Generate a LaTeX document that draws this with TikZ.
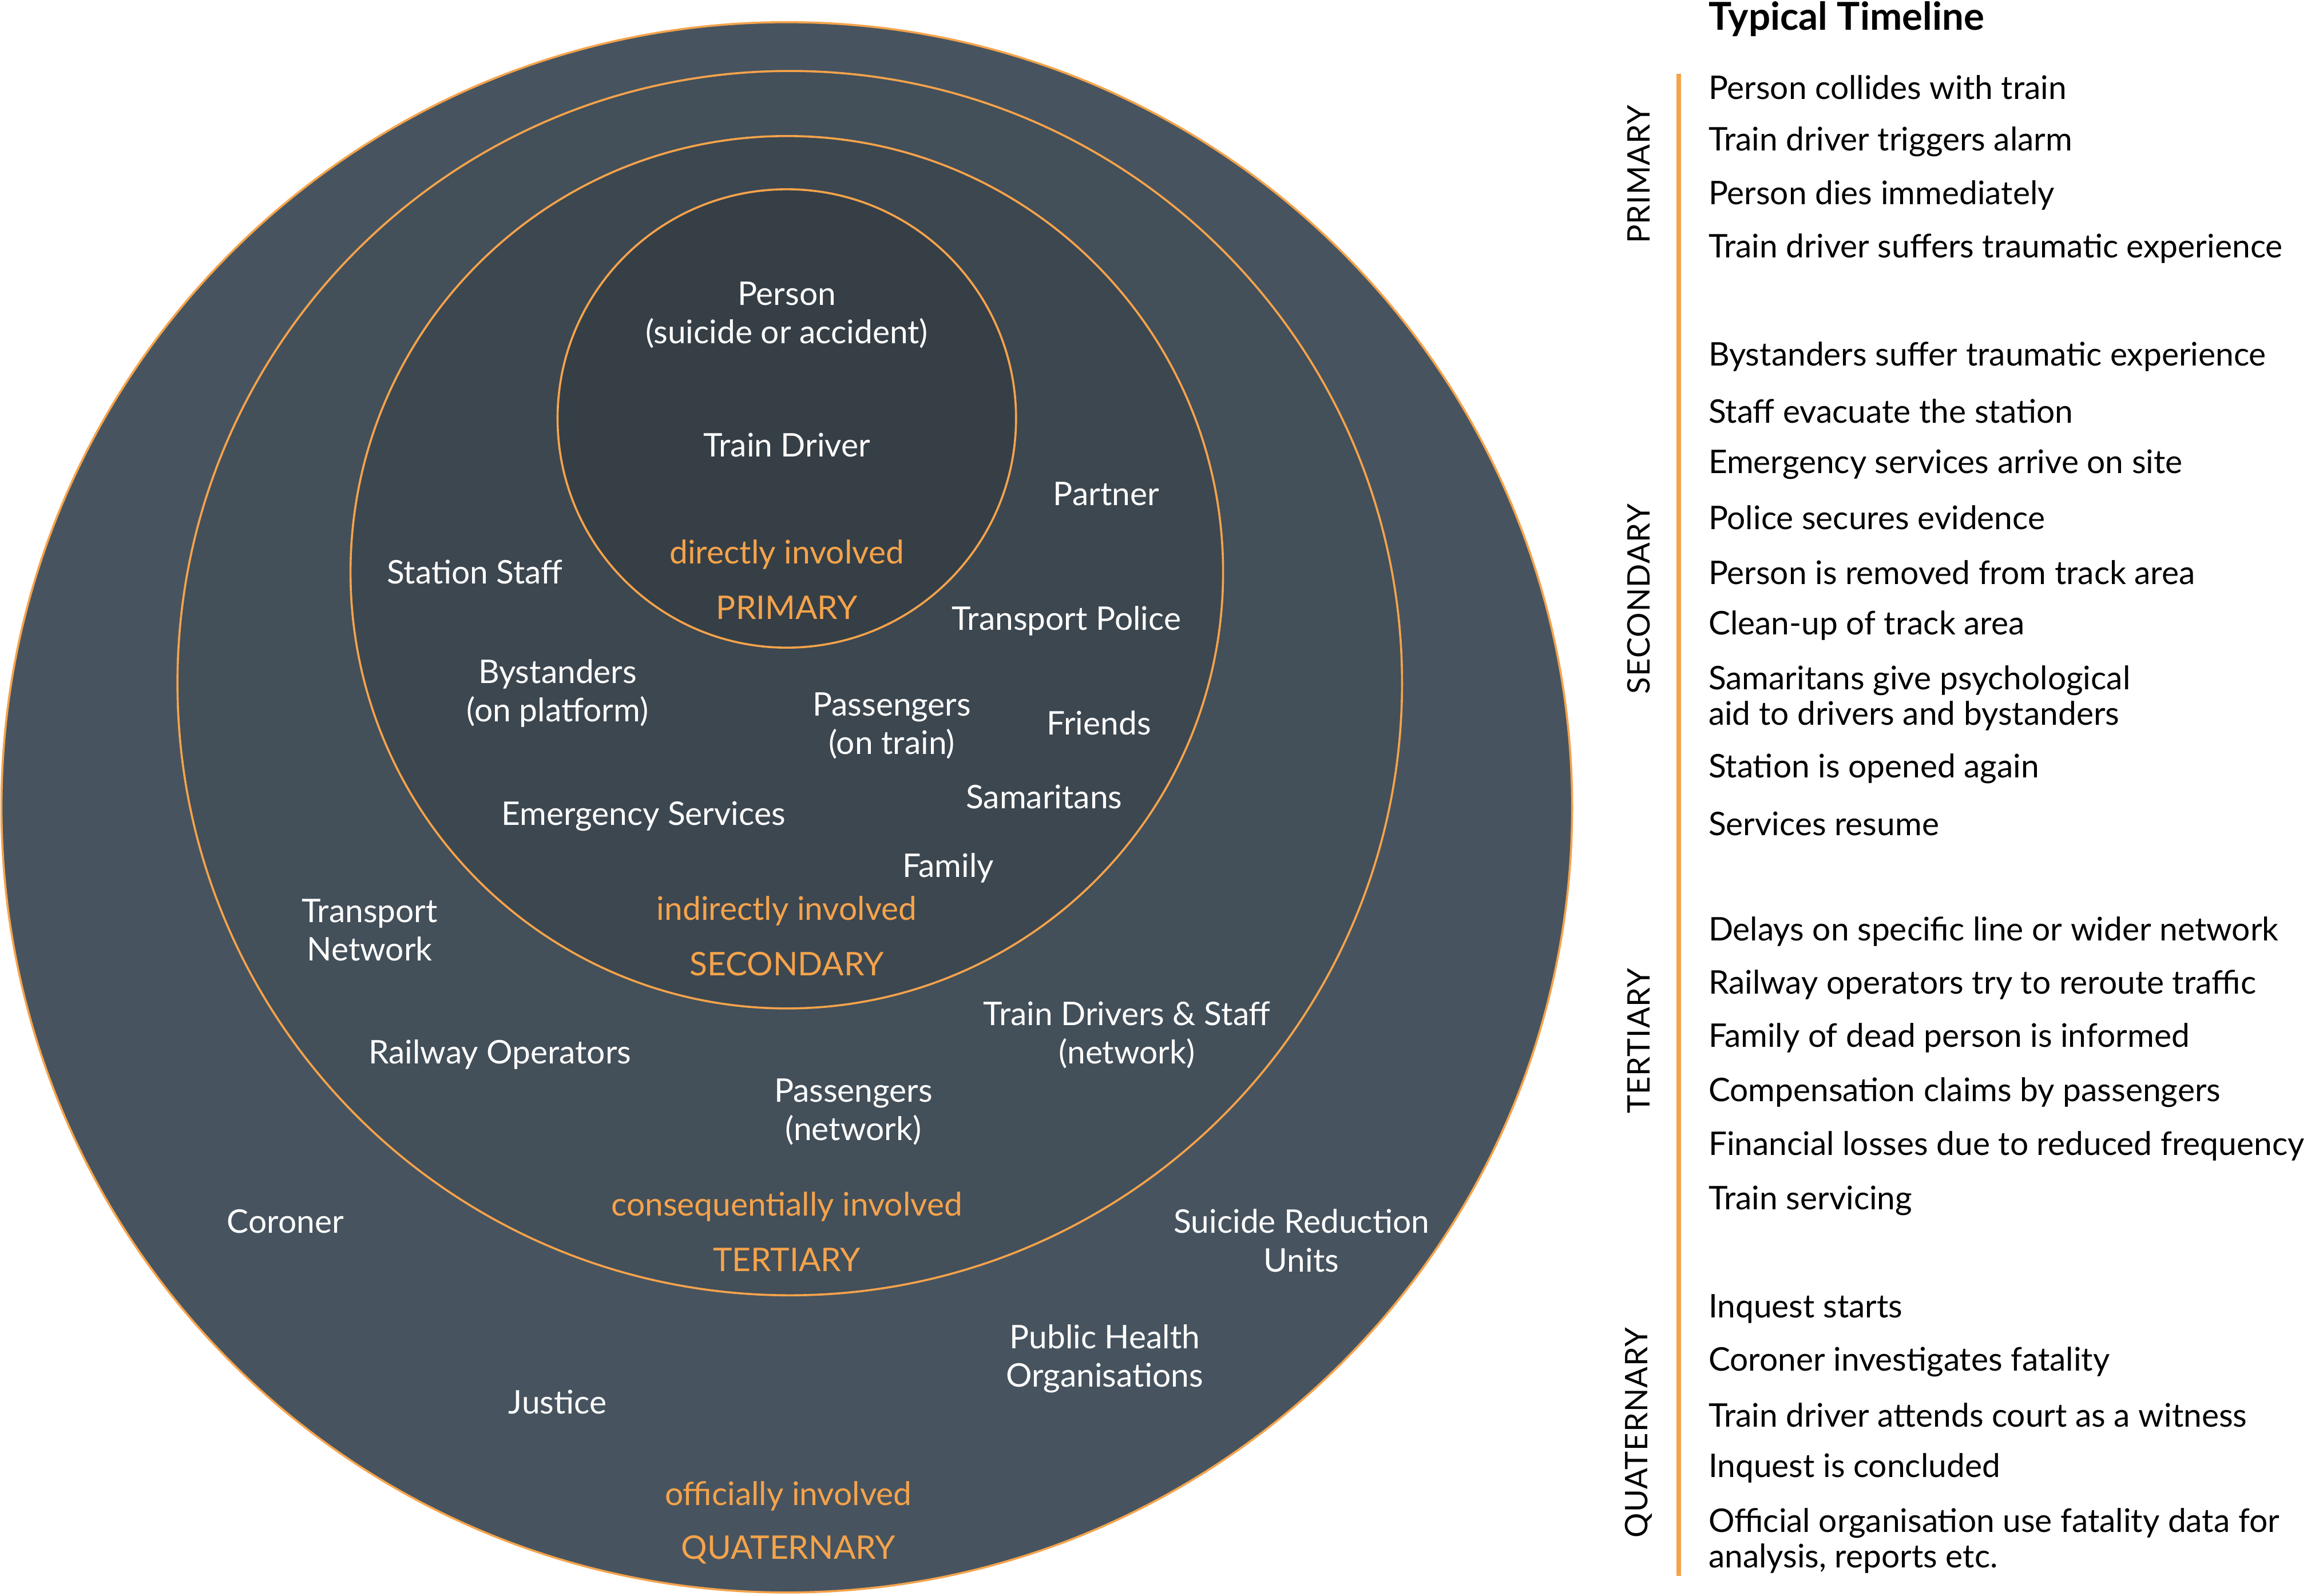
\documentclass[tikz,border=0pt]{standalone}
\usepackage{fontspec}
\setmainfont{Lato}
\newfontfamily\spacedfont[LetterSpace=2]{Lato}
\definecolor{ringq}{HTML}{47545F}
\definecolor{ringt}{HTML}{434F59}
\definecolor{rings}{HTML}{3D4750}
\definecolor{ringp}{HTML}{363F46}
\definecolor{ora}{HTML}{F5A34B}
\tikzset{
  ring/.style={draw=ora, line width=1.4pt},
  lbl/.style={text=white, align=center, font=\fontsize{22}{26}\selectfont, inner sep=0pt},
  olbl/.style={text=ora, align=center, font=\fontsize{22}{26}\selectfont, inner sep=0pt},
  item/.style={text=black, anchor=west, align=left, font=\fontsize{22}{24}\selectfont, inner sep=0pt},
  phase/.style={text=black, rotate=90, font=\spacedfont\fontsize{21}{24}\selectfont, inner sep=0pt},
}
\begin{document}
\begin{tikzpicture}[x=1pt,y=-1pt]
\useasboundingbox (0,0) rectangle (1568,1079);
% rings
\fill[ringq] (532,546) circle (531);
\draw[ring] (532,546) circle (531);
\fill[ringt] (534,462) circle (414);
\draw[ring] (534,462) circle (414);
\fill[rings] (532,387) circle (295);
\draw[ring] (532,387) circle (295);
\fill[ringp] (532,283) circle (155);
\draw[ring] (532,283) circle (155);

% primary
\node[lbl] (person) at (532,213) {Person\\(suicide or accident)};
\node[lbl] (driver) at (532,301) {Train Driver};
\node[olbl] (pinv) at (532,375) {directly involved};
\node[olbl] (plab) at (532,411) {PRIMARY};

% secondary
\node[lbl] (partner) at (748,334) {Partner};
\node[lbl] (sstaff) at (321,387) {Station Staff};
\node[lbl] (tpolice) at (721,420) {Transport Police};
\node[lbl] (bystand) at (377,469) {Bystanders\\(on platform)};
\node[lbl] (passtrain) at (603,491) {Passengers\\(on train)};
\node[lbl] (friends) at (743,489) {Friends};
\node[lbl] (samar) at (706,539) {Samaritans};
\node[lbl] (emerg) at (435,552) {Emergency Services};
\node[lbl] (family) at (641,587) {Family};
\node[olbl] (sinv) at (532,616) {indirectly involved};
\node[olbl] (slab) at (532,652) {SECONDARY};

% tertiary
\node[lbl] (tnet) at (250,629) {Transport\\Network};
\node[lbl] (tdrivers) at (762,700) {Train Drivers \& Staff\\(network)};
\node[lbl] (railop) at (338,713) {Railway Operators};
\node[lbl] (passnet) at (577,752) {Passengers\\(network)};
\node[olbl] (tinv) at (532,816) {consequentially involved};
\node[olbl] (tlab) at (532,852) {TERTIARY};

% quaternary
\node[lbl] (coroner) at (193,826) {Coroner};
\node[lbl] (sru) at (880,839) {Suicide Reduction\\Units};
\node[lbl] (pho) at (747,919) {Public Health\\Organisations};
\node[lbl] (justice) at (377,948) {Justice};
\node[olbl] (qinv) at (533,1012) {officially involved};
\node[olbl] (qlab) at (533,1048) {QUATERNARY};

% timeline
\node[item, font=\bfseries\fontsize{26}{26}\selectfont] (title) at (1155,13) {Typical Timeline};
\coordinate (ltop) at (1135,50);
\coordinate (lbot) at (1135,1066);
\draw[ora, line width=3pt] (ltop) -- (lbot);

\node[phase] (ph1) at (1108,118) {PRIMARY};
\node[phase] (ph2) at (1108,405) {SECONDARY};
\node[phase] (ph3) at (1108,704) {TERTIARY};
\node[phase] (ph4) at (1108,969) {QUATERNARY};

\node[item] (e1) at (1155,59) {Person collides with train};
\node[item] (e2) at (1155,96) {Train driver triggers alarm};
\node[item] (e3) at (1155,132) {Person dies immediately};
\node[item] (e4) at (1155,168) {Train driver suffers traumatic experience};

\node[item] (e5) at (1155,241) {Bystanders suffer traumatic experience};
\node[item] (e6) at (1155,278) {Staff evacuate the station};
\node[item] (e7) at (1155,314) {Emergency services arrive on site};
\node[item] (e8) at (1155,350) {Police secures evidence};
\node[item] (e9) at (1155,387) {Person is removed from track area};
\node[item] (e10) at (1155,423) {Clean-up of track area};
\node[item] (e11) at (1155,472) {Samaritans give psychological\\aid to drivers and bystanders};
\node[item] (e12) at (1155,520) {Station is opened again};
\node[item] (e13) at (1155,557) {Services resume};

\node[item] (e14) at (1155,630) {Delays on specific line or wider network};
\node[item] (e15) at (1155,666) {Railway operators try to reroute traffic};
\node[item] (e16) at (1155,702) {Family of dead person is informed};
\node[item] (e17) at (1155,739) {Compensation claims by passengers};
\node[item] (e18) at (1155,775) {Financial losses due to reduced frequency};
\node[item] (e19) at (1155,812) {Train servicing};

\node[item] (e20) at (1155,885) {Inquest starts};
\node[item] (e21) at (1155,921) {Coroner investigates fatality};
\node[item] (e22) at (1155,957) {Train driver attends court as a witness};
\node[item] (e23) at (1155,993) {Inquest is concluded};
\node[item] (e24) at (1155,1042) {Official organisation use fatality data for\\analysis, reports etc.};
\end{tikzpicture}
\end{document}
